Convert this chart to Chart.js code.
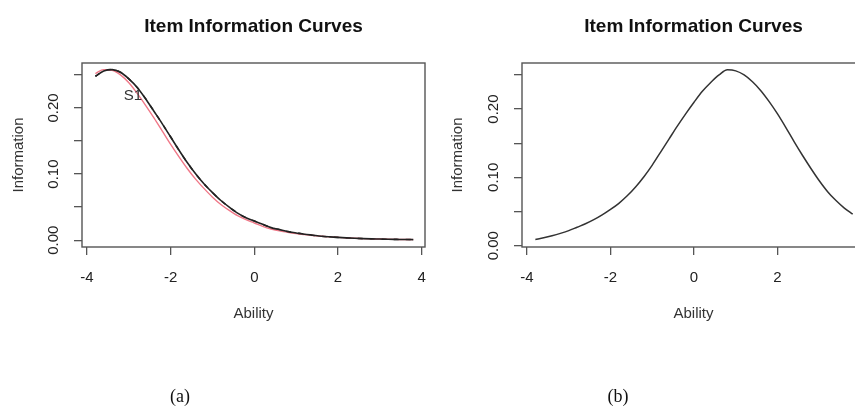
<!DOCTYPE html>
<html>
<head>
<meta charset="utf-8">
<script src="https://cdn.jsdelivr.net/npm/chart.js@4/dist/chart.umd.min.js"></script>
<style>
  html, body { margin: 0; padding: 0; background: #fff; overflow: hidden; width: 855px; height: 410px; }
  #wrapA { position: absolute; left: 0; top: 0; width: 430px; height: 410px; }
  #wrapB { position: absolute; left: 430px; top: 0; width: 440px; height: 410px; }
  .cap { position: absolute; top: 386px; font-family: "Liberation Serif", "Times New Roman", serif;
         font-size: 18px; color: #111; transform: translateX(-50%); }
</style>
</head>
<body>
<div id="wrapA"><canvas id="chartA"></canvas></div>
<div id="wrapB"><canvas id="chartB"></canvas></div>
<div class="cap" style="left:180px">(a)</div>
<div class="cap" style="left:618px">(b)</div>

<script>
// ability grid shared by all curves
const ability = [-3.8, -3.6, -3.4, -3.2, -3.0, -2.8, -2.6, -2.4, -2.2, -2.0,
                 -1.8, -1.6, -1.4, -1.2, -1.0, -0.8, -0.6, -0.4, -0.2, 0.0,
                  0.2, 0.4, 0.6, 0.8, 1.0, 1.2, 1.4, 1.6, 1.8, 2.0,
                  2.2, 2.4, 2.6, 2.8, 3.0, 3.2, 3.4, 3.6, 3.8];

// panel (a)
const infoA1 = [0.248, 0.256, 0.258, 0.254, 0.244, 0.231, 0.214, 0.195, 0.176, 0.156,
                0.136, 0.117, 0.100, 0.085, 0.072, 0.060, 0.050, 0.041, 0.034, 0.029,
                0.024, 0.019, 0.016, 0.013, 0.011, 0.009, 0.0075, 0.006, 0.005, 0.0042,
                0.0035, 0.0029, 0.0024, 0.0020, 0.0017, 0.0014, 0.0012, 0.0010, 0.0009];
const infoA2 = [0.252, 0.258, 0.257, 0.250, 0.238, 0.222, 0.204, 0.185, 0.165, 0.145,
                0.126, 0.108, 0.092, 0.078, 0.065, 0.054, 0.045, 0.037, 0.031, 0.026,
                0.021, 0.017, 0.014, 0.012, 0.010, 0.0085, 0.0072, 0.006, 0.005, 0.0042,
                0.0035, 0.0029, 0.0024, 0.0020, 0.0017, 0.0014, 0.0012, 0.0010, 0.0009];

// panel (b)
const infoB = [0.009, 0.0115, 0.0145, 0.018, 0.022, 0.027, 0.032, 0.038, 0.045, 0.053,
               0.062, 0.073, 0.086, 0.101, 0.118, 0.137, 0.156, 0.175, 0.193, 0.210,
               0.226, 0.239, 0.250, 0.2575, 0.256, 0.250, 0.240, 0.227, 0.211, 0.193,
               0.173, 0.152, 0.132, 0.113, 0.095, 0.079, 0.066, 0.055, 0.046];

const xTicks = [-4, -2, 0, 2, 4];
const yTickStep = 0.05;
const labelS1 = { text: "S1", x: -2.9, y: 0.219 };

const FONT = "'Liberation Sans', Arial, sans-serif";

function pts(ys) {
  return ability.map((x, i) => ({ x, y: ys[i] }));
}

const boxPlugin = {
  id: "box",
  afterDatasetsDraw(chart) {
    const { ctx, chartArea: a } = chart;
    ctx.save();
    ctx.strokeStyle = "#555";
    ctx.lineWidth = 1.4;
    ctx.strokeRect(a.left, a.top, a.right - a.left, a.bottom - a.top);
    ctx.restore();
  }
};

const textPlugin = {
  id: "curveText",
  afterDatasetsDraw(chart, args, opts) {
    if (!opts.label) return;
    const { ctx, scales } = chart;
    ctx.save();
    ctx.font = `15px ${FONT}`;
    ctx.fillStyle = "#333";
    ctx.textAlign = "center";
    ctx.textBaseline = "middle";
    ctx.fillText(opts.label.text, scales.x.getPixelForValue(opts.label.x), scales.y.getPixelForValue(opts.label.y));
    ctx.restore();
  }
};

function makeCfg(datasets, o) {
  return {
    type: "line",
    data: { datasets },
    plugins: [boxPlugin, textPlugin],
    options: {
      responsive: true,
      maintainAspectRatio: false,
      animation: false,
      layout: { padding: { left: 0, right: 5, top: 0, bottom: 0 } },
      elements: { point: { radius: 0 }, line: { cubicInterpolationMode: "monotone", fill: false } },
      plugins: {
        legend: { display: false },
        tooltip: { enabled: false },
        curveText: { label: o.label || null },
        title: {
          display: true,
          text: "Item Information Curves",
          fullSize: false,
          color: "#111",
          font: { family: FONT, size: 19, weight: "bold" },
          padding: { top: 15, bottom: 25.2 }
        }
      },
      scales: {
        x: {
          type: "linear",
          min: o.xmin, max: o.xmax,
          afterBuildTicks: s => { s.ticks = xTicks.map(v => ({ value: v })); },
          afterFit: s => { s.height = 163; s.paddingLeft = 0; s.paddingRight = 0; },
          ticks: { autoSkip: false, maxRotation: 0, padding: 14, color: "#222",
                   font: { family: FONT, size: 15 } },
          grid: { drawOnChartArea: false, drawTicks: true, tickLength: 8, color: "#555", lineWidth: 1.3 },
          border: { display: false },
          title: { display: true, text: "Ability", color: "#333",
                   font: { family: FONT, size: 15 }, padding: { top: 0, bottom: 87 } }
        },
        y: {
          type: "linear",
          min: o.ymin, max: o.ymax,
          afterFit: s => { s.width = o.yw; s.paddingTop = 0; s.paddingBottom = 0; },
          ticks: {
            stepSize: yTickStep, includeBounds: false, autoSkip: false,
            minRotation: 90, maxRotation: 90, crossAlign: "center", padding: 6,
            color: "#222", font: { family: FONT, size: 15 },
            callback: v => {
              const k = Math.round(v * 100);
              return k % 10 === 0 ? (k / 100).toFixed(2) : "";
            }
          },
          grid: { drawOnChartArea: false, drawTicks: true, tickLength: 8, color: "#555", lineWidth: 1.3 },
          border: { display: false },
          title: { display: true, text: "Information", color: "#333",
                   font: { family: FONT, size: 15 }, padding: { top: o.ytitlePad, bottom: 0 } }
        }
      }
    }
  };
}

new Chart(document.getElementById("chartA"), makeCfg([
  { data: pts(infoA1), borderColor: "#222", borderWidth: 1.6 },
  { data: pts(infoA2), borderColor: "#f07888", borderWidth: 1.4 },
  { data: pts(infoA1), borderColor: "#333", borderWidth: 1.6, borderDash: [5, 7] }
], { xmin: -4.12, xmax: 4.08, ymin: -0.0103, ymax: 0.268, yw: 82, ytitlePad: 9.5, label: labelS1 }));

new Chart(document.getElementById("chartB"), makeCfg([
  { data: pts(infoB), borderColor: "#333", borderWidth: 1.5 }
], { xmin: -4.12, xmax: 4.095, ymin: -0.002, ymax: 0.2675, yw: 92, ytitlePad: 18.5 }));
</script>
</body>
</html>
